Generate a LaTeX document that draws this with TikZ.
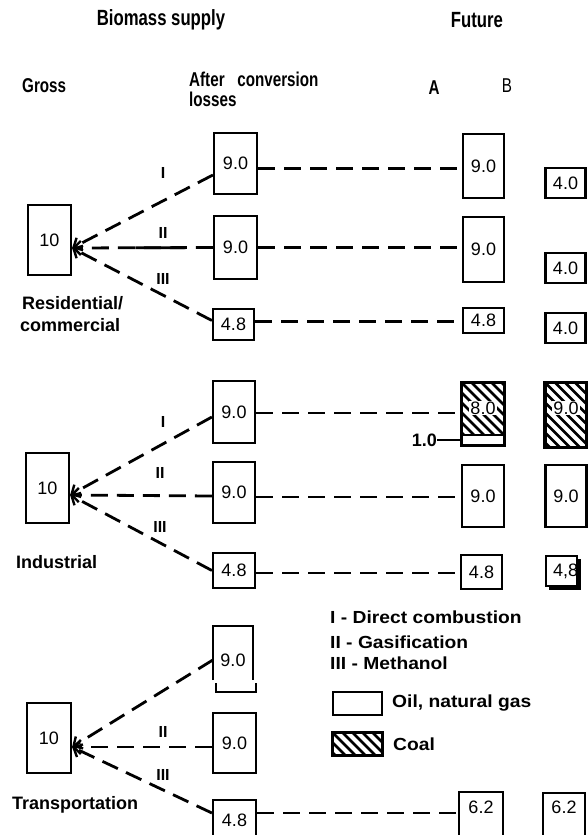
\documentclass[tikz,border=0pt]{standalone}
\usepackage{fontspec}
\setmainfont{Liberation Sans}
\newfontfamily\hdrfont[FakeStretch=0.76]{Liberation Sans}
\newfontfamily\lgdfont[FakeStretch=1.1]{Liberation Sans}
\usetikzlibrary{arrows.meta,calc}
\begin{document}
\begin{tikzpicture}[x=1pt,y=-1pt,
 box/.style={draw,line width=2.2pt,inner sep=0pt,font=\fontsize{18}{18}\selectfont},
 num/.style={inner sep=0pt,font=\fontsize{18}{18}\selectfont},
 dl/.style={line width=2.8pt,dash pattern=on 17pt off 9pt},
 arr/.style={dl,-{Straight Barb[length=7pt,width=14pt,line width=2.4pt]}},
 hdr/.style={font=\hdrfont\bfseries\fontsize{22}{24}\selectfont,inner sep=0pt},
 sub/.style={font=\hdrfont\bfseries\fontsize{20}{20}\selectfont,inner sep=0pt},
 side/.style={font=\bfseries\fontsize{18}{19}\selectfont,inner sep=0pt,anchor=west},
 rom/.style={font=\bfseries\fontsize{16}{16}\selectfont,inner sep=0pt},
 lgd/.style={font=\lgdfont\bfseries\fontsize{17.5}{19}\selectfont,inner sep=0pt,anchor=west},
 hatch/.style={line width=2.5pt},
]
\useasboundingbox (0,0) rectangle (587,835);

% headers
\node[hdr] (h1) at (161,20) {Biomass supply};
\node[hdr] (h2) at (477,20) {Future};
\node[sub,anchor=west] (h3) at (22,86) {Gross};
\node[sub,anchor=north west,align=left] (h4) at (189,72) {After\ \ \ conversion\\losses};
\node[sub] (hA) at (434,88) {A};
\node[font=\hdrfont\fontsize{20}{20}\selectfont,inner sep=0pt] (hB) at (507,86) {B};

% ---------------- group 1: residential/commercial
\node[box,minimum width=43pt,minimum height=70pt] (g1) at (49.5,240) {10};
\coordinate (t1) at ([yshift=-8pt]g1.east);
\node[box,minimum width=43pt,minimum height=61pt] (a11) at (235.5,163.5) {9.0};
\node[box,minimum width=43pt,minimum height=63pt] (a12) at (235.5,247.5) {9.0};
\node[box,minimum width=41pt,minimum height=31pt] (a13) at (233.5,324.5) {4.8};
\draw[arr] ([yshift=-11.5pt]a11.west) -- (t1);
\draw[arr] (a12.west) -- (t1);
\draw[arr] ([yshift=4pt]a13.west) -- (t1);
\draw[line width=2.8pt] ($(a12.west)!0.2!(t1)$) -- ($(a12.west)!0.55!(t1)$);
\node[rom] (l11) at (163,173) {I};
\node[rom] (l12) at (163,233) {II};
\node[rom] (l13) at (163,279) {III};
\node[side] (s1) at (22,303) {Residential/};
\node[side] (s1b) at (20,325) {commercial};

\node[box,minimum width=41pt,minimum height=64pt] (A11) at (483.5,166) {9.0};
\node[box,minimum width=41pt,minimum height=65pt] (A12) at (483.5,249.5) {9.0};
\node[box,minimum width=41pt,minimum height=25pt] (A13) at (483.5,320.5) {4.8};
\coordinate (r11) at ([yshift=-5pt]a11.east);
\coordinate (r13) at ([yshift=3pt]a13.east);
\draw[dl] (r11) -- (r11 -| A11.west);
\draw[dl] (a12.east) -- (a12.east -| A12.west);
\draw[dl] (r13) -- (r13 -| A13.west);

\node[box,minimum width=40pt,minimum height=30pt] (B11) at (565.5,183) {4.0};
\node[box,minimum width=40pt,minimum height=30pt] (B12) at (565.5,268) {4.0};
\node[box,minimum width=40pt,minimum height=30pt] (B13) at (565.5,328) {4.0};

% ---------------- group 2: industrial
\node[box,minimum width=43pt,minimum height=70pt] (g2) at (47.5,488) {10};
\coordinate (t2) at ([yshift=-7pt]g2.east);
\node[box,minimum width=42pt,minimum height=62pt] (a21) at (234,412) {9.0};
\node[box,minimum width=42pt,minimum height=61pt] (a22) at (234,492.5) {9.0};
\node[box,minimum width=42pt,minimum height=35pt] (a23) at (234,570.5) {4.8};
\draw[arr] ([yshift=-5pt]a21.west) -- (t2);
\draw[arr] ([yshift=-3.5pt]a22.west) -- (t2);
\draw[arr] (a23.west) -- (t2);
\node[rom] (l21) at (163,422) {I};
\node[rom] (l22) at (160,473) {II};
\node[rom] (l23) at (160,527) {III};
\node[side] (s2) at (16,562) {Industrial};

% A coal box
\node[box,minimum width=42pt,minimum height=62pt] (A21) at (483,414) {};
\begin{scope}
\clip (A21.north west) rectangle ([yshift=11pt]A21.south east);
\foreach \k in {-70,-60,...,40} \draw[hatch] ($(A21.north west)+(\k,0)$) -- ++(70,70);
\end{scope}
\draw[line width=1.6pt] ([yshift=11pt]A21.south west) -- ([yshift=11pt]A21.south east);
\draw[line width=2.2pt] (A21.north west) rectangle (A21.south east);
\node[num,fill=white,inner sep=1pt] (A21t) at ([yshift=6pt]A21.center) {8.0};
\node[font=\bfseries\fontsize{18}{18}\selectfont,inner sep=0pt,anchor=east] (one) at (437,440) {1.0};
\draw[line width=2pt] (one.east) -- (one.east -| A21.west);

\node[box,minimum width=42pt,minimum height=62pt] (A22) at (483,496) {9.0};
\node[box,minimum width=41pt,minimum height=34pt] (A23) at (481.5,572) {4.8};
\coordinate (r21) at ([yshift=-1pt]a21.east);
\coordinate (r22) at ([yshift=-4.5pt]a22.east);
\coordinate (r23) at ([yshift=-2.5pt]a23.east);
\draw[dl] (r21) -- (r21 -| A21.west);
\draw[dl] (r22) -- (r22 -| A22.west);
\draw[dl] (r23) -- (r23 -| A23.west);

% B coal box
\node[box,minimum width=41pt,minimum height=64pt] (B21) at (566,415) {};
\begin{scope}
\clip (B21.north west) rectangle (B21.south east);
\foreach \k in {-70,-60,...,40} \draw[hatch] ($(B21.north west)+(\k,0)$) -- ++(70,70);
\end{scope}
\draw[line width=2.2pt] (B21.north west) rectangle (B21.south east);
\node[num,fill=white,inner sep=1pt] (B21t) at ([yshift=7pt]B21.center) {9.0};
\node[box,minimum width=41pt,minimum height=62pt] (B22) at (566,496) {9.0};
\coordinate (B23c) at (561.5,571);
\fill ($(B23c)+(-12.5,-12)$) rectangle ($(B23c)+(19,19)$);
\node[box,fill=white,minimum width=31pt,minimum height=30pt] (B23) at (B23c) {};
\begin{scope}
\clip (B23.south west) rectangle (B23.north east);
\node[num,anchor=west] (B23t) at ([xshift=8pt]B23.west) {4,8};
\end{scope}

% ---------------- group 3: transportation
\node[box,minimum width=44pt,minimum height=70pt] (g3) at (49,738) {10};
\coordinate (t3) at ([yshift=-9pt]g3.east);
\node[num,minimum width=40pt,minimum height=20pt] (a31) at (233,660) {9.0};
\draw[line width=2.2pt] (213,680) -- (213,626) -- (253,626) -- (253,680);
\draw[line width=2.2pt] (216,683) -- (216,692) -- (256,692) -- (256,683);
\node[box,minimum width=43pt,minimum height=60pt] (a32) at (234.5,743) {9.0};
\node[box,minimum width=43pt,minimum height=40pt] (a33) at (234.5,820) {4.8};
\draw[arr] (a31.west) -- (t3);
\draw[arr] ([yshift=-4pt]a32.west) -- (t3);
\draw[arr] ([yshift=7pt]a33.west) -- (t3);
\node[rom] (l32) at (163,732) {II};
\node[rom] (l33) at (163,775) {III};
\node[side] (s3) at (12,805) {Transportation};

\node[box,minimum width=44pt,minimum height=48pt] (A33) at (481,816) {};
\node[num] (A33t) at (481,807) {6.2};
\coordinate (r33) at ([yshift=7pt]a33.east);
\draw[dl] (r33) -- (r33 -| A33.west);
\node[box,minimum width=42pt,minimum height=47pt] (B33) at (564,816.5) {};
\node[num] (B33t) at (564,807) {6.2};

% ---------------- legend
\node[lgd] (k1) at (330,617) {I - Direct combustion};
\node[lgd] (k2) at (330,642) {II - Gasification};
\node[lgd] (k3) at (330,663) {III - Methanol};
\node[box,minimum width=49pt,minimum height=23pt] (k4) at (357.5,703.5) {};
\node[lgd] (k4t) at (392,703) {Oil, natural gas};
\node[box,minimum width=49pt,minimum height=22pt] (k5) at (357.5,744) {};
\begin{scope}
\clip (k5.north west) rectangle (k5.south east);
\foreach \k in {-30,-20,...,50} \draw[hatch] ($(k5.north west)+(\k,0)$) -- ++(30,30);
\end{scope}
\draw[line width=2.2pt] (k5.north west) rectangle (k5.south east);
\node[lgd] (k5t) at (393,744) {Coal};
\end{tikzpicture}
\end{document}
